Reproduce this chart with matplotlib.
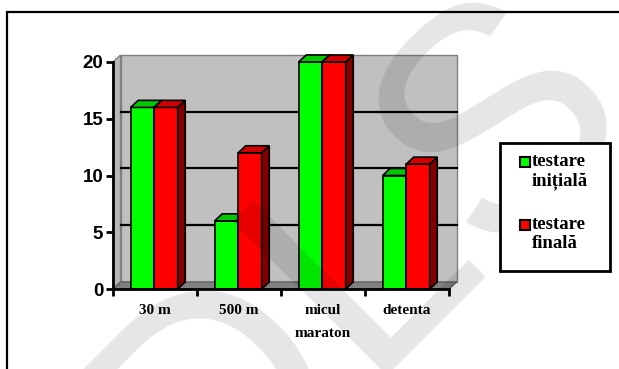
import matplotlib.pyplot as plt
from matplotlib.patches import Polygon, Rectangle

# data
categories = ["30 m", "500 m", "micul\nmaraton", "detenta"]
series_names = ["testare\ninițială", "testare\nfinală"]
initial = [16, 6, 20, 10]
final = [16, 12, 20, 11]
y_ticks = [0, 5, 10, 15, 20]

W, H = 619, 369
front = {"green": "#00ff00", "red": "#ff0000"}
top = {"green": "#00c800", "red": "#d00000"}
side = {"green": "#007000", "red": "#800000"}

# depth of the fake 3d box, in data units
DX, DY = 0.09, 0.62
BAR_W = 0.28


def px(x, y):
    # pixel coords (top-left origin) -> figure fraction
    return x / W, 1 - y / H


fig = plt.figure(figsize=(W / 100, H / 100), dpi=100)
fig.patch.set_facecolor("white")

# outer frame of the chart object
fig.add_artist(Rectangle(px(7, 400), 700 / W, 388 / H, transform=fig.transFigure,
                         fill=False, edgecolor="black", lw=1.6))

l, b = px(113, 289)
ax = fig.add_axes([l, b, 336 / W, 227 / H])
ax.set_xlim(0, len(categories))
ax.set_ylim(0, 20)
ax.set_facecolor("none")
for s in ["top", "right"]:
    ax.spines[s].set_visible(False)
for s in ["left", "bottom"]:
    ax.spines[s].set_linewidth(2)
    ax.spines[s].set_zorder(10)

n = len(categories)

# walls and floor
ax.add_patch(Rectangle((DX, DY), n, 20, facecolor="#c0c0c0", edgecolor="#808080",
                       lw=1, clip_on=False, zorder=1))
ax.add_patch(Polygon([(0, 0), (0, 20), (DX, 20 + DY), (DX, DY)], closed=True,
                     facecolor="#b8b8b8", edgecolor="#808080", lw=1, clip_on=False, zorder=1))
ax.add_patch(Polygon([(0, 0), (n, 0), (n + DX, DY), (DX, DY)], closed=True,
                     facecolor="#808080", edgecolor="#606060", lw=1, clip_on=False, zorder=2))
for v in y_ticks[1:-1]:
    ax.plot([DX, n + DX], [v + DY, v + DY], color="black", lw=1.6, zorder=2,
            clip_on=False)


def bar3d(x0, h, key, z):
    # front face, top face, right side face
    ax.add_patch(Rectangle((x0, 0), BAR_W, h, facecolor=front[key],
                           edgecolor="black", lw=1.2, zorder=z, clip_on=False))
    ax.add_patch(Polygon([(x0, h), (x0 + DX, h + DY), (x0 + BAR_W + DX, h + DY),
                          (x0 + BAR_W, h)], closed=True, facecolor=top[key],
                         edgecolor="black", lw=1.2, zorder=z, clip_on=False))
    ax.add_patch(Polygon([(x0 + BAR_W, 0), (x0 + BAR_W, h), (x0 + BAR_W + DX, h + DY),
                          (x0 + BAR_W + DX, DY)], closed=True, facecolor=side[key],
                         edgecolor="black", lw=1.2, zorder=z, clip_on=False))


for i in range(n):
    bar3d(i + 0.49 - BAR_W, initial[i], "green", 3 + 2 * i)
    bar3d(i + 0.49, final[i], "red", 4 + 2 * i)

# axes ticks
ax.set_yticks(y_ticks)
ax.set_yticklabels([str(v) for v in y_ticks], fontfamily="Liberation Sans",
                   fontweight="bold", fontsize=13.5)
ax.tick_params(axis="y", length=5, width=2, pad=2)
ax.set_xticks(range(n + 1))
ax.set_xticklabels([])
ax.tick_params(axis="x", which="major", length=5, width=2)
ax.set_xticks([i + 0.5 for i in range(n)], minor=True)
ax.set_xticklabels(categories, minor=True, fontfamily="Liberation Serif",
                   fontweight="bold", fontsize=11, linespacing=2.0, va="top")
ax.tick_params(axis="x", which="minor", length=0, pad=11)

# faint watermark, under the legend box
fig.text(*px(200, 537), "DLS", ha="left", va="baseline", rotation=45,
         rotation_mode="anchor", fontfamily="Liberation Sans", fontsize=228,
         color="black", alpha=0.1, zorder=20)

# legend box
fig.add_artist(Rectangle(px(500, 271), 110 / W, 128 / H, transform=fig.transFigure,
                         facecolor="white", edgecolor="black", lw=2, zorder=30))
for k, (name, key) in enumerate(zip(series_names, ["green", "red"])):
    y0 = 157 + k * 63
    fig.add_artist(Rectangle(px(520, y0 + 10), 10 / W, 10 / H, transform=fig.transFigure,
                             facecolor=front[key], edgecolor="black", lw=1.5, zorder=31))
    fig.text(*px(532, y0 - 4), name, ha="left", va="top", fontfamily="Liberation Serif",
             fontweight="bold", fontsize=13.5, linespacing=1.15, zorder=31)

fig.savefig("out.png", dpi=100)
